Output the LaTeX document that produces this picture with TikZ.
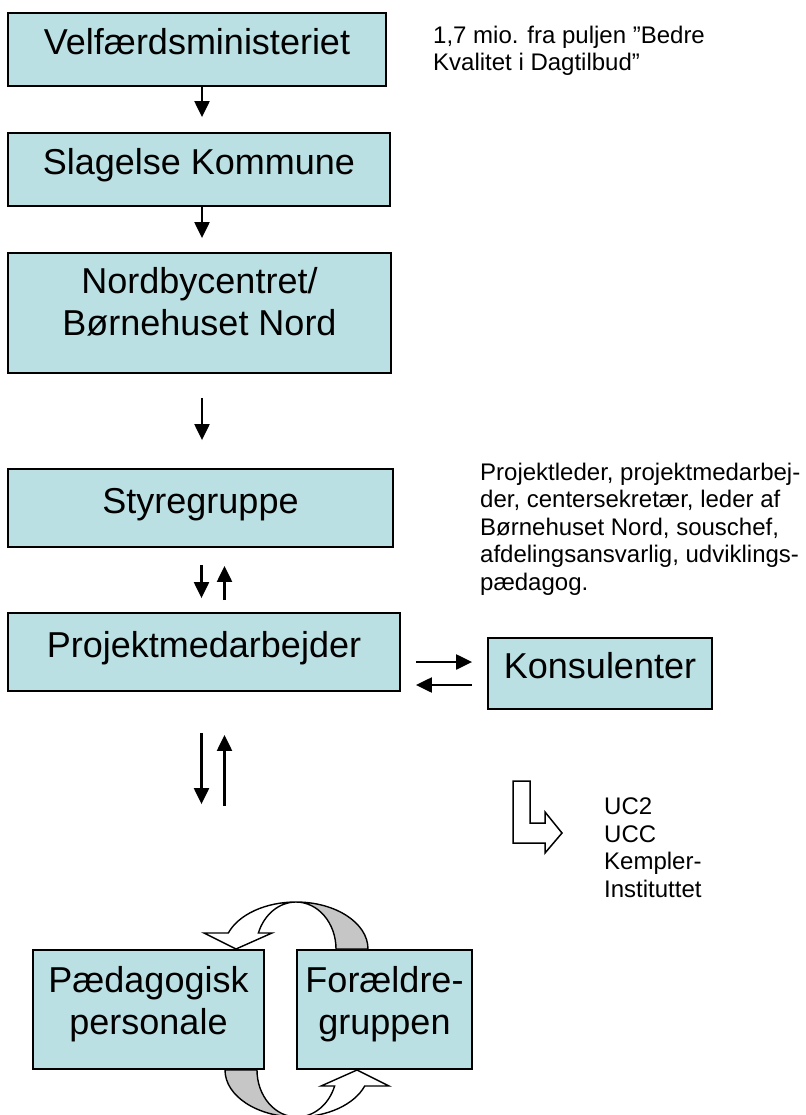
\documentclass[tikz,border=0pt]{standalone}
\usepackage{fontspec}
\setmainfont{Liberation Sans}
\usetikzlibrary{arrows.meta}
\definecolor{boxblue}{RGB}{187,224,227}
\def\backside{(296,902) arc[start angle=270,end angle=360,x radius=72,y radius=47] -- (336,949) arc[start angle=0,end angle=-90,x radius=40,y radius=47] -- cycle}
\def\frontside{(228.3,933) arc[start angle=199.9,end angle=270,x radius=72,y radius=47] arc[start angle=270,end angle=199.9,x radius=40,y radius=47] -- (272,933) -- (236,949) -- (204,933) -- cycle}
\newcommand\lowpad[1]{\rule[-#1]{0pt}{#1}}

\begin{document}
\begin{tikzpicture}[x=1pt,y=-1pt,
    box/.style={draw,fill=boxblue,line width=1.8pt,inner sep=0pt,
      font=\fontsize{36}{42}\selectfont,align=center},
    oneline/.style={text height=26pt,text depth=16pt},
    note/.style={anchor=north west,inner sep=0pt,align=left,
      font=\fontsize{24}{27.6}\selectfont},
    arr/.style={line width=2.2pt,-{Triangle[width=15pt,length=16pt]}}]
  \useasboundingbox (0,0) rectangle (805,1115);

  \node[box,oneline,minimum width=378pt,minimum height=73pt] (velf) at (197,49.5) {Velfærdsministeriet};
  \node[box,oneline,minimum width=382pt,minimum height=73pt] (slag) at (199,169.5) {Slagelse Kommune};
  \node[box,minimum width=383pt,minimum height=120pt] (nord) at (199.5,313) {Nordbycentret/\\Børnehuset Nord\lowpad{23pt}};
  \node[box,oneline,minimum width=385pt,minimum height=78pt] (styre) at (200.5,508) {Styregruppe};
  \node[box,oneline,minimum width=392pt,minimum height=78pt] (proj) at (204,652) {Projektmedarbejder};
  \node[box,oneline,minimum width=224pt,minimum height=71pt] (kons) at (600,673.5) {Konsulenter};
  \node[box,minimum width=231pt,minimum height=119pt] (paed) at (148.5,1009.5) {Pædagogisk\\personale\lowpad{19pt}};
  \node[box,minimum width=175pt,minimum height=119pt] (foraeld) at (384.5,1009.5) {Forældre-\\gruppen\lowpad{19pt}};

  \node[note] (pulje) at (433,25.5) {1,7 mio. fra puljen ”Bedre\\Kvalitet i Dagtilbud”};
  \node[note] (medlem) at (480,462.5) {Projektleder, projektmedarbej-\\der, centersekretær, leder af\\Børnehuset Nord, souschef,\\afdelingsansvarlig, udviklings-\\pædagog.};
  \node[note] (uddan) at (604,797.5) {UC2\\UCC\\Kempler-\\Instituttet};

  \coordinate (midx) at (202,0);
  \coordinate (dnx) at (201.5,0);
  \coordinate (upx) at (224.5,0);
  \coordinate (toright) at (0,662);
  \coordinate (toleft) at (0,685);

  \draw[arr,shorten >=15pt] (velf.south -| midx) -- (slag.north -| midx);
  \draw[arr,shorten >=14pt] (slag.south -| midx) -- (nord.north -| midx);
  \draw[arr,shorten <=24pt,shorten >=28pt] (nord.south -| midx) -- (styre.north -| midx);
  \draw[arr,shorten <=17pt,shorten >=14pt] (styre.south -| dnx) -- (proj.north -| dnx);
  \draw[arr,shorten <=12pt,shorten >=18pt] (proj.north -| upx) -- (styre.south -| upx);
  \draw[arr,shorten <=15pt,shorten >=15pt] (proj.east |- toright) -- (kons.west |- toright);
  \draw[arr,shorten <=15pt,shorten >=15pt] (kons.west |- toleft) -- (proj.east |- toleft);
  \draw[arr,shorten <=41pt,shorten >=145pt] (proj.south -| dnx) -- (paed.north -| dnx);
  \draw[arr,shorten <=143pt,shorten >=43pt] (paed.north -| upx) -- (proj.south -| upx);

  \draw[line width=1.5pt] (513,781) -- (530,781) -- (530,823) -- (545,823) -- (545,812)
    -- (562,833) -- (545,853) -- (545,843) -- (513,843) -- cycle;

  \draw[line width=1.4pt,fill=gray!45] \backside;
  \draw[line width=1.4pt,fill=white] \frontside;
  \begin{scope}[rotate around={180:(296.5,1009.5)}]
    \draw[line width=1.4pt,fill=gray!45] \backside;
    \draw[line width=1.4pt,fill=white] \frontside;
  \end{scope}
\end{tikzpicture}
\end{document}
